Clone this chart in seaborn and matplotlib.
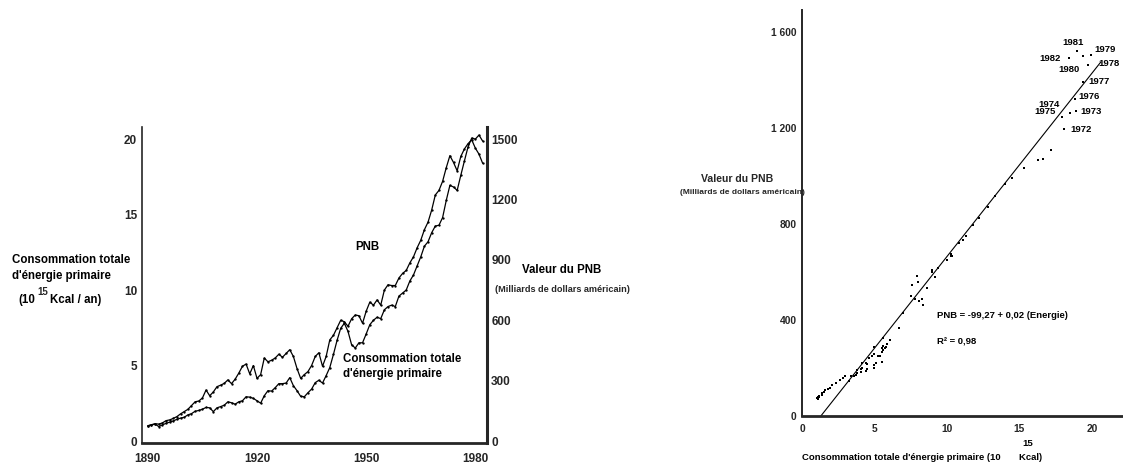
import numpy as np
import pandas as pd
import matplotlib
matplotlib.use("Agg")
import matplotlib.pyplot as plt
from matplotlib import font_manager
import seaborn as sns

# ---------------------------------------------------------------- data
years = list(range(1890, 1983))

# Consommation totale d'énergie primaire, 10^15 kcal / an
energie = [
    1.01, 1.08, 1.15, 1.12, 1.20, 1.35, 1.40, 1.50, 1.62, 1.80,   # 1890-1899
    1.95, 2.10, 2.35, 2.60, 2.65, 2.85, 3.38, 3.00, 3.25, 3.60,   # 1900-1909
    3.70, 3.82, 4.05, 3.80, 4.10, 4.50, 4.95, 5.10, 4.45, 5.00,   # 1910-1919
    4.15, 4.40, 5.50, 5.25, 5.35, 5.50, 5.75, 5.55, 5.80, 6.05,   # 1920-1929
    5.60, 4.80, 4.15, 4.40, 4.60, 5.00, 5.60, 5.85, 4.95, 5.60,   # 1930-1939
    6.70, 7.00, 7.50, 8.00, 7.90, 7.60, 8.10, 8.35, 8.30, 7.80,   # 1940-1949
    8.60, 9.20, 9.00, 9.35, 9.00, 10.00, 10.35, 10.30, 10.30, 10.80,  # 1950-1959
    11.10, 11.30, 11.80, 12.20, 12.80, 13.30, 14.00, 14.50, 15.30, 16.30,  # 1960-1969
    16.60, 17.20, 18.10, 18.90, 18.45, 17.90, 18.85, 19.35, 19.70, 19.95,  # 1970-1979
    19.40, 19.00, 18.40,                                           # 1980-1982
]

# Valeur du PNB, milliards de dollars américains
pnb = [
    76, 80, 84, 72, 80, 88, 94, 100, 108, 114,          # 1890-1899
    118, 130, 136, 148, 152, 158, 167, 165, 146, 165,   # 1900-1909
    171, 178, 195, 190, 183, 195, 200, 220, 218, 212,   # 1910-1919
    200, 188, 225, 250, 248, 265, 285, 285, 288, 315,   # 1920-1929
    275, 250, 222, 220, 240, 258, 290, 302, 288, 325,   # 1930-1939
    365, 430, 500, 560, 585, 545, 478, 462, 488, 488,   # 1940-1949
    532, 578, 600, 615, 608, 652, 668, 675, 668, 720,   # 1950-1959
    735, 750, 795, 825, 870, 915, 968, 990, 1035, 1068,  # 1960-1969
    1072, 1110, 1195, 1270, 1262, 1245, 1320, 1392, 1462, 1505,  # 1970-1979
    1500, 1520, 1490,                                     # 1980-1982
]

year_ticks = [1890, 1920, 1950, 1980]
energy_ticks = [0, 5, 10, 15, 20]
pnb_ticks = [0, 300, 600, 900, 1200, 1500]

scatter_xticks = [0, 5, 10, 15, 20]
scatter_yticks = [0, 400, 800, 1200, 1600]
scatter_ytick_labels = ["0", "400", "800", "1 200", "1 600"]

# Droite de régression PNB = a + b * Energie (b exprimé par 10^15 kcal)
fit_intercept = -99.27
fit_slope = 76.4
fit_energy_range = [1.3, 20.6]

labelled_years = [1972, 1973, 1974, 1975, 1976, 1977, 1978, 1979, 1980, 1981, 1982]

df = pd.DataFrame({"annee": years, "energie": energie, "pnb": pnb})

# ---------------------------------------------------------------- style
sns.set_style("white")
installed = {f.name for f in font_manager.fontManager.ttflist}
base_font = next((f for f in ["Liberation Sans", "Arial", "DejaVu Sans"] if f in installed), "DejaVu Sans")
narrow_font = next((f for f in ["Liberation Sans Narrow", base_font] if f in installed), base_font)
plt.rcParams["font.family"] = [base_font, "DejaVu Sans"]
plt.rcParams["font.weight"] = "bold"

W, H = 1123, 466
fig = plt.figure(figsize=(W / 100, H / 100), dpi=100)
fig.patch.set_facecolor("white")


def fx(x):
    return x / W


def fy(y):
    return 1 - y / H


def box(x0, y0, x1, y1):
    return [fx(x0), fy(y1), fx(x1) - fx(x0), fy(y0) - fy(y1)]


# ---------------------------------------------------------------- left panel: time series
ax1 = fig.add_axes(box(142, 127, 487, 443))
ax2 = ax1.twinx()

sns.lineplot(data=df, x="annee", y="energie", ax=ax1, color="black", lw=0.9,
             marker="o", markersize=1.7, markeredgewidth=0)
sns.lineplot(data=df, x="annee", y="pnb", ax=ax2, color="black", lw=0.9,
             marker="o", markersize=1.7, markeredgewidth=0)

ymin, ymax = -0.13, 20.8
ax1.set_xlim(1888.4, 1983.2)
ax1.set_ylim(ymin, ymax)
ax2.set_ylim(ymin * 75, ymax * 75)

ax1.set_xticks(year_ticks)
ax1.set_yticks(energy_ticks)
ax2.set_yticks(pnb_ticks)
for a in (ax1, ax2):
    a.set_xlabel("")
    a.set_ylabel("")
    a.set_facecolor("none")
ax1.tick_params(axis="x", length=0, pad=7, labelsize=8.5)
ax1.tick_params(axis="y", length=0, pad=3.5, labelsize=8.5)
ax2.tick_params(axis="y", length=0, pad=3, labelsize=8.5)
for lab in ax1.get_xticklabels() + ax1.get_yticklabels() + ax2.get_yticklabels():
    lab.set_fontweight("bold")
    lab.set_family([narrow_font, "DejaVu Sans"])

ax1.spines["top"].set_visible(False)
ax1.spines["right"].set_visible(False)
ax1.spines["left"].set_linewidth(1.2)
ax1.spines["bottom"].set_linewidth(2.0)
for s in ("top", "left", "bottom"):
    ax2.spines[s].set_visible(False)
ax2.spines["right"].set_linewidth(2.2)

# annotations of the left panel
txt = dict(fontsize=8.3, fontweight="bold", color="black")
fig.text(fx(12), fy(260), "Consommation totale", va="center", ha="left", **txt)
fig.text(fx(12), fy(276), "d'énergie primaire", va="center", ha="left", **txt)
fig.text(fx(18), fy(300), "(10", va="center", ha="left", **txt)
fig.text(fx(37), fy(292), "15", va="center", ha="left", fontsize=7, fontweight="bold")
fig.text(fx(50), fy(300), "Kcal / an)", va="center", ha="left", **txt)

fig.text(fx(522), fy(270), "Valeur du PNB", va="center", ha="left", **txt)
fig.text(fx(495), fy(289), "(Milliards de dollars américain)", va="center", ha="left",
         fontsize=6.6, fontweight="bold")

fig.text(fx(355), fy(247), "PNB", va="center", ha="left", **txt)
fig.text(fx(343), fy(359), "Consommation totale", va="center", ha="left", **txt)
fig.text(fx(343), fy(374), "d'énergie primaire", va="center", ha="left", **txt)

# ---------------------------------------------------------------- right panel: PNB vs energy
ax3 = fig.add_axes(box(802, 10, 1123, 416))
sns.scatterplot(data=df, x="energie", y="pnb", ax=ax3, color="black", marker="s",
                s=3.2, linewidth=0)
fit_x = np.array(fit_energy_range)
fit_y = fit_intercept + fit_slope * fit_x
sns.lineplot(x=fit_x, y=fit_y, ax=ax3, color="black", lw=0.8)

ax3.set_xlim(0, 22.14)
ax3.set_ylim(0, 1692)
ax3.set_xticks(scatter_xticks)
ax3.set_yticks(scatter_yticks)
ax3.set_yticklabels(scatter_ytick_labels)
ax3.set_xlabel("")
ax3.set_ylabel("")
ax3.set_facecolor("none")
ax3.tick_params(axis="x", length=0, pad=6, labelsize=7.4)
ax3.tick_params(axis="y", length=0, pad=4, labelsize=7.4)
for lab in ax3.get_xticklabels() + ax3.get_yticklabels():
    lab.set_fontweight("bold")
    lab.set_family([narrow_font, "DejaVu Sans"])
ax3.spines["top"].set_visible(False)
ax3.spines["right"].set_visible(False)
ax3.spines["left"].set_linewidth(1.4)
ax3.spines["bottom"].set_linewidth(2.0)

small = dict(fontsize=6.8, fontweight="bold", color="black")
fig.text(fx(737), fy(179), "Valeur du PNB", va="center", ha="center", fontsize=7.6, fontweight="bold")
fig.text(fx(805), fy(193), "(Milliards de dollars américain)", va="center", ha="right",
         fontsize=6.0, fontweight="bold")
fig.text(fx(802), fy(458), "Consommation totale d'énergie primaire (10       Kcal)",
         va="center", ha="left", **small)
fig.text(fx(1022), fy(444), "15", va="center", ha="left", **small)

ax3.text(0.421, 0.247, "PNB = -99,27 + 0,02 (Energie)", transform=ax3.transAxes,
         va="center", ha="left", **small)
ax3.text(0.421, 0.183, "R² = 0,98", transform=ax3.transAxes, va="center", ha="left", **small)

# year labels near the most recent points (offsets in points)
offsets = {
    1972: (4, 0, "left", "center"),
    1973: (3, 0, "left", "center"),
    1974: (-7, 6, "right", "center"),
    1975: (-4, 4, "right", "center"),
    1976: (2, 2, "left", "center"),
    1977: (4, 0, "left", "center"),
    1978: (8, 1, "left", "center"),
    1979: (2, 4, "left", "center"),
    1980: (-10, -10, "center", "center"),
    1981: (-3, 6, "center", "center"),
    1982: (-6, 0, "right", "center"),
}
for yr in labelled_years:
    row = df[df["annee"] == yr].iloc[0]
    dx, dy, ha, va = offsets[yr]
    ax3.annotate(str(yr), (row["energie"], row["pnb"]), xytext=(dx, dy),
                 textcoords="offset points", ha=ha, va=va, **small)

fig.savefig("out.png", dpi=100, facecolor="white")
